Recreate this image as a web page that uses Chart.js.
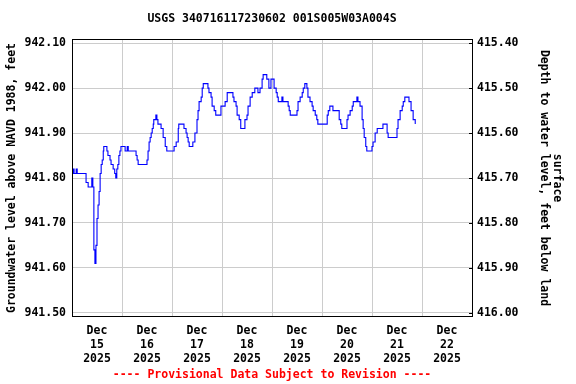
<!DOCTYPE html>
<html>
<head>
<meta charset="utf-8">
<script src="https://cdn.jsdelivr.net/npm/chart.js@4"></script>
<style>
	html, body { margin: 0; padding: 0; background: #fff; }
	#wrap { width: 576px; height: 384px; }
</style>
</head>
<body>
<div id="wrap"><canvas id="chart1" width="576" height="384"></canvas></div>
<script>
// hours since Dec 15 2025 00:00, water level (ft above NAVD 1988)
const hours = [
	0, 0.5, 1, 2, 2.5, 6.25, 6.75, 7.75, 9, 9.5, 10, 10.5, 11, 11.5, 12, 12.5, 13, 13.5, 14, 14.5,
	15, 15.25, 16.25, 16.75, 17.25, 18.25, 18.75, 19.75, 20.5, 21, 21.5, 22, 22.5, 23, 23.5, 25,
	25.5, 26, 26.5, 27, 30.25, 30.75, 31.25, 31.75, 35.5, 36, 36.5, 37, 37.5, 38, 38.5, 39, 39.25,
	39.75, 40.25, 40.75, 41.25, 42.75, 43.75, 44.75, 45.5, 48.5, 49, 50, 51, 51.25, 53.25, 53.75,
	54.75, 55.25, 55.75, 56.25, 57.5, 58, 59, 60, 60.5, 61, 62, 62.5, 63, 64.75, 65.25, 65.75,
	66.75, 67.25, 68.25, 69, 71, 71.5, 72.5, 73.5, 74.5, 76.25, 77.25, 77.75, 78.75, 79.25, 80.25,
	81, 82.5, 83, 84, 84.5, 85.5, 86.5, 87, 87.75, 88.75, 89.25, 90.25, 91.25, 91.75, 93, 93.5,
	94.5, 95.5, 96.5, 97, 98, 98.5, 99, 100.25, 100.75, 101.25, 103.25, 103.75, 104.25, 104.75,
	107, 108, 108.5, 109.5, 110.5, 111, 111.75, 112.25, 112.75, 113.25, 114.25, 115.25, 115.75,
	116.75, 117.5, 118, 121.5, 122.5, 123, 123.75, 124.75, 125.25, 127.75, 128.25, 129, 129.5,
	131, 132, 132.5, 133.5, 134.5, 135, 136.25, 136.75, 137.25, 138.25, 139.25, 139.75, 140.25,
	141, 141.5, 143, 144, 144.5, 145.5, 146.5, 148.75, 149.25, 150.25, 151.25, 151.75, 155, 156,
	156.5, 157.5, 158.5, 159, 159.75, 161.25, 161.75, 162.75, 163.75, 164.75
];
const levels = [
	941.81, 941.82, 941.81, 941.82, 941.81, 941.81, 941.79, 941.78, 941.78, 941.80, 941.78, 941.64, 941.61, 941.65, 941.71, 941.74, 941.77, 941.81, 941.83, 941.84,
	941.86, 941.87, 941.87, 941.86, 941.85, 941.84, 941.83, 941.82, 941.81, 941.80, 941.82, 941.83, 941.85, 941.86, 941.87, 941.87,
	941.86, 941.86, 941.87, 941.86, 941.86, 941.85, 941.84, 941.83, 941.83, 941.84, 941.86, 941.88, 941.89, 941.90, 941.91, 941.92, 941.93,
	941.93, 941.94, 941.93, 941.92, 941.91, 941.89, 941.87, 941.86, 941.86, 941.87, 941.88, 941.91, 941.92, 941.92, 941.91,
	941.90, 941.89, 941.88, 941.87, 941.87, 941.88, 941.90, 941.93, 941.95, 941.97, 941.98, 942.00, 942.01, 942.01, 942.00, 941.99,
	941.98, 941.96, 941.95, 941.94, 941.94, 941.96, 941.96, 941.97, 941.99, 941.99, 941.98, 941.97, 941.96, 941.94, 941.93,
	941.91, 941.91, 941.93, 941.94, 941.96, 941.98, 941.99, 941.99, 942.00, 942.00, 941.99, 942.00, 942.02, 942.03, 942.03, 942.02,
	942.00, 942.02, 942.02, 942.00, 941.99, 941.98, 941.97, 941.97, 941.98, 941.97, 941.97, 941.96, 941.95, 941.94,
	941.94, 941.95, 941.97, 941.98, 941.99, 942.00, 942.01, 942.01, 942.00, 941.98, 941.97, 941.96, 941.95,
	941.94, 941.93, 941.92, 941.92, 941.94, 941.95, 941.96, 941.96, 941.95, 941.95, 941.93, 941.92, 941.91,
	941.91, 941.93, 941.94, 941.95, 941.96, 941.97, 941.97, 941.98, 941.97, 941.96, 941.93, 941.91, 941.89,
	941.87, 941.86, 941.86, 941.87, 941.88, 941.90, 941.91, 941.91, 941.92, 941.92, 941.90, 941.89, 941.89, 941.91,
	941.93, 941.95, 941.96, 941.97, 941.98, 941.98, 941.97, 941.95, 941.93, 941.92
];
const dayLabels = [
	["Dec", "15", "2025"], ["Dec", "16", "2025"], ["Dec", "17", "2025"], ["Dec", "18", "2025"],
	["Dec", "19", "2025"], ["Dec", "20", "2025"], ["Dec", "21", "2025"], ["Dec", "22", "2025"]
];
const levelTicks = [941.5, 941.6, 941.7, 941.8, 941.9, 942.0, 942.1];
const depthTicks = [415.4, 415.5, 415.6, 415.7, 415.8, 415.9, 416.0];

const font = { family: "DejaVu Sans Mono", weight: "bold", size: 11.5, lineHeight: 1.22 };

// frame, small inner ticks on the right axis, title, footer and axis titles
const texts = {
	id: "texts",
	afterDraw(chart) {
		const ctx = chart.ctx;
		const a = chart.chartArea;
		const cx = (a.left + a.right) / 2;
		const cy = (a.top + a.bottom) / 2;
		ctx.save();
		ctx.strokeStyle = "#000";
		ctx.lineWidth = 1;
		ctx.strokeRect(a.left + 0.5, a.top - 0.5, a.right - a.left, a.bottom - a.top + 1);
		const y1 = chart.scales.y1;
		ctx.beginPath();
		depthTicks.forEach((v) => {
			const py = Math.round(y1.getPixelForValue(v)) + 0.5;
			ctx.moveTo(a.right - 3, py);
			ctx.lineTo(a.right, py);
		});
		ctx.stroke();
		ctx.font = "bold 11.5px 'DejaVu Sans Mono'";
		ctx.textAlign = "center";
		ctx.textBaseline = "middle";
		ctx.fillStyle = "#000";
		ctx.fillText("USGS 340716117230602 001S005W03A004S", cx, 19);
		ctx.fillStyle = "#ff0000";
		ctx.fillText("---- Provisional Data Subject to Revision ----", cx, 375);
		ctx.fillStyle = "#000";
		ctx.save();
		ctx.translate(12, cy);
		ctx.rotate(-Math.PI / 2);
		ctx.fillText("Groundwater level above NAVD 1988, feet", 0, 0);
		ctx.restore();
		ctx.save();
		ctx.translate(544, cy);
		ctx.rotate(Math.PI / 2);
		ctx.fillText("Depth to water level, feet below land", 0, 0);
		ctx.restore();
		ctx.save();
		ctx.translate(557, cy);
		ctx.rotate(Math.PI / 2);
		ctx.fillText("surface", 0, 0);
		ctx.restore();
		ctx.restore();
	},
};

new Chart(document.getElementById("chart1"), {
	type: "line",
	data: {
		datasets: [
			{
				data: hours.map((h, i) => ({ x: h, y: levels[i] })),
				borderColor: "#0000ff",
				borderWidth: 1.1,
				pointRadius: 0,
				stepped: "before",
				fill: false,
			},
		],
	},
	options: {
		responsive: false,
		animation: false,
		layout: { padding: { top: 40, left: 0, right: 0, bottom: 0 } },
		plugins: {
			legend: { display: false },
			title: { display: false },
			tooltip: { enabled: false },
		},
		scales: {
			x: {
				type: "linear",
				min: 0,
				max: 192,
				afterBuildTicks: (s) => {
					s.ticks = [];
					for (let v = 0; v <= 192; v += 12) s.ticks.push({ value: v });
				},
				afterFit: (s) => { s.height = 68; },
				border: { display: false },
				grid: {
					drawTicks: false,
					color: (c) => (c.tick && c.tick.value % 24 === 0 ? "#cccccc" : "rgba(0,0,0,0)"),
				},
				ticks: {
					autoSkip: false,
					maxRotation: 0,
					padding: 8,
					color: "#000",
					font: font,
					callback: (v) => (v % 24 === 12 ? dayLabels[(v - 12) / 24] : ""),
				},
			},
			y: {
				position: "left",
				min: 941.4929,
				max: 942.1071,
				afterBuildTicks: (s) => { s.ticks = levelTicks.map((v) => ({ value: v })); },
				afterFit: (s) => { s.width = 72; },
				border: { display: false },
				grid: { drawTicks: false, color: "#cccccc" },
				ticks: { padding: 6, color: "#000", font: font, callback: (v) => v.toFixed(2) },
			},
			y1: {
				position: "right",
				reverse: true,
				min: 415.3929,
				max: 416.0071,
				afterBuildTicks: (s) => { s.ticks = depthTicks.map((v) => ({ value: v })); },
				afterFit: (s) => { s.width = 104; },
				border: { display: false },
				grid: { display: false, drawTicks: false },
				ticks: { padding: 5, color: "#000", font: font, callback: (v) => v.toFixed(2) },
			},
		},
	},
	plugins: [texts],
});
</script>
</body>
</html>
